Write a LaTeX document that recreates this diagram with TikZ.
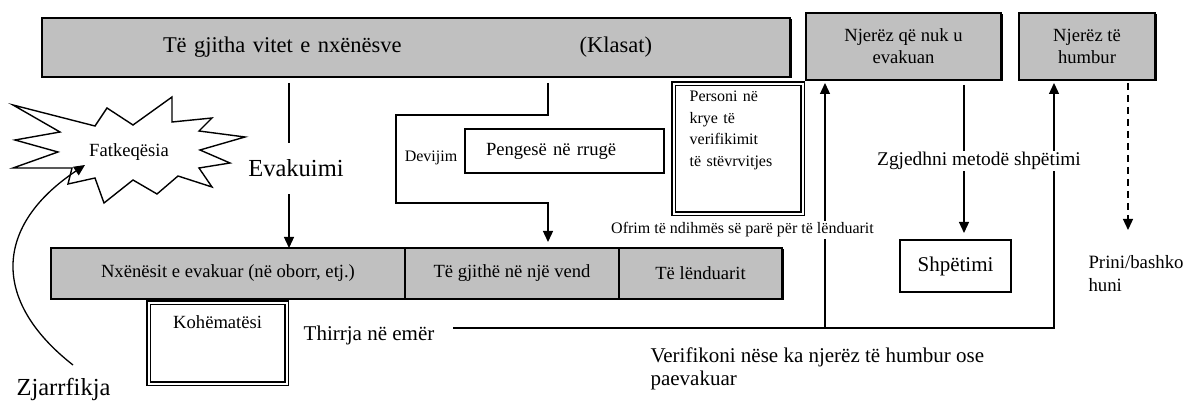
\documentclass[tikz,border=0pt]{standalone}
\usepackage{fontspec}
\setmainfont{Liberation Serif}
\usepackage{xcolor}
\usepackage{tikz}
\usetikzlibrary{arrows.meta,positioning,calc,shadows}
\definecolor{boxgray}{HTML}{C0C0C0}
\newcommand{\ftmain}{\fontsize{22.5}{26}\selectfont}
\newcommand{\ftbig}{\fontsize{24.5}{28}\selectfont}
\newcommand{\ftmid}{\fontsize{21}{23}\selectfont}
\newcommand{\ftbox}{\fontsize{18.6}{22}\selectfont}
\newcommand{\ftsmall}{\fontsize{16}{21.5}\selectfont}
\tikzset{
  blk/.style={draw, line width=1.6pt, inner sep=0pt, outer sep=0pt, align=center, font=\ftbox},
  gblk/.style={blk, fill=boxgray, drop shadow={shadow xshift=1.5pt, shadow yshift=-1.5pt, opacity=1, fill=black}},
  dbl/.style={draw, double, double distance=2pt, line width=1.3pt, inner sep=0pt, fill=white},
  arr/.style={-{Triangle[length=11pt,width=10pt]}, line width=1.3pt},
}
\begin{document}
\begin{tikzpicture}[x=1pt, y=-1pt]
\useasboundingbox (0,0) rectangle (1183,403);
\node[gblk, font=\ftmain, align=left, text width=506pt, inner xsep=121pt, minimum height=59pt] (all) at (416,47.5) {Të gjitha vitet e nxënësve\hspace{178pt}(Klasat)};
\node[gblk, minimum width=195pt, minimum height=67pt] (nev) at (903.5,46.5) {Njerëz që nuk u\\evakuan};
\node[gblk, minimum width=136pt, minimum height=67pt] (hum) at (1087,46.5) {Njerëz të\\humbur};
\node[gblk, minimum width=354pt, minimum height=51pt] (nxe) at (228,273.5) {Nxënësit e evakuar (në oborr, etj.)};
\node[gblk, minimum width=214pt, minimum height=51pt, right=0pt of nxe] (vend) {Të gjithë në një vend};
\node[gblk, minimum width=163pt, minimum height=51pt, right=0pt of vend] (lend) {Të lënduarit};
\node[blk, anchor=north west, align=left, text width=157pt, inner xsep=21pt, minimum height=44pt] (peng) at (465,129) {Pengesë në rrugë};
\node[dbl, anchor=north west, font=\ftsmall, align=left, text width=97pt, inner xsep=16pt, text height=18pt, text depth=112pt] (pers) at (673,83) {Personi në\\krye të\\verifikimit\\të stëvrvitjes};
\node[dbl, anchor=north west, font=\ftbox, align=center, text width=138pt, text height=26pt, text depth=55pt] (koh) at (148,302) {Kohëmatësi};
\node[blk, font=\ftmid, minimum width=111pt, minimum height=52pt] (shp) at (955.5,266) {Shpëtimi};
\draw[line width=1.4pt, line join=miter] (13,105) -- (95,126) -- (107,108) -- (133,125) -- (172,97) -- (172,122) -- (212,118) -- (199,131) -- (245,137) -- (200,150) -- (230,163) -- (199,168) -- (212,187) -- (178,176) -- (157,194) -- (133,180) -- (104,203) -- (95,178) -- (68,184) -- (72,168) -- (13,168) -- (58,152) -- (15,140) -- (60,132) -- cycle;
\node[font=\ftbox] (fat) at (129,152) {Fatkeqësia};
\node[font=\ftbig] (zj) at (63.5,389) {Zjarrfikja};
\node[font=\ftsmall] (dev) at (431,158) {Devijim};
\node[font=\ftmid] (thr) at (369,335) {Thirrja në emër};
\node[font=\ftmid, align=left, anchor=west] (ver) at (647,368.5) {Verifikoni nëse ka njerëz të humbur ose\\paevakuar};
\node[font=\fontsize{18.8}{23}\selectfont, align=left, anchor=west] (prn) at (1085,273.5) {Prini/bashko\\huni};
\coordinate (evx) at (289,0);
\coordinate (dvx) at (548,0);
\coordinate (ax) at (825,0);
\coordinate (sx) at (964,0);
\coordinate (bx) at (1054,0);
\coordinate (dx) at (1128,0);
\coordinate (thl) at (453,328);
\coordinate (zjt) at (73,365);
\coordinate (hit) at (85,165);
\coordinate (dend) at (1128,230);
\draw[arr, shorten <=6pt] (all.south -| evx) -- (nxe.north -| evx);
\draw[arr, shorten <=6pt, shorten >=6pt] (all.south -| dvx) -- ++(0,38) -| ++(-152,88) -- ++(152,0) -- (vend.north -| dvx);
\draw[arr, shorten >=3pt] (thl) -| (hum.south -| bx);
\draw[arr, shorten >=3pt] (thl -| ax) -- (nev.south -| ax);
\draw[arr, shorten <=5pt, shorten >=7pt] (nev.south -| sx) -- (shp.north -| sx);
\draw[arr, dash pattern=on 7pt off 5pt, shorten <=3pt] (hum.south -| dx) -- (dend);
\draw[arr] (zjt) .. controls (-10,300) and (-5,225) .. (hit);
\node[font=\ftbig, fill=white, inner xsep=2pt, inner ysep=17pt] (ev) at (296,168.5) {Evakuimi};
\node[font=\fontsize{19.4}{22}\selectfont, fill=white, inner sep=1pt] (zg) at (979,161) {Zgjedhni metodë shpëtimi};
\node[font=\ftsmall, fill=white, inner sep=1.5pt] (ofr) at (742.5,230) {Ofrim të ndihmës së parë për të lënduarit};
\end{tikzpicture}
\end{document}
